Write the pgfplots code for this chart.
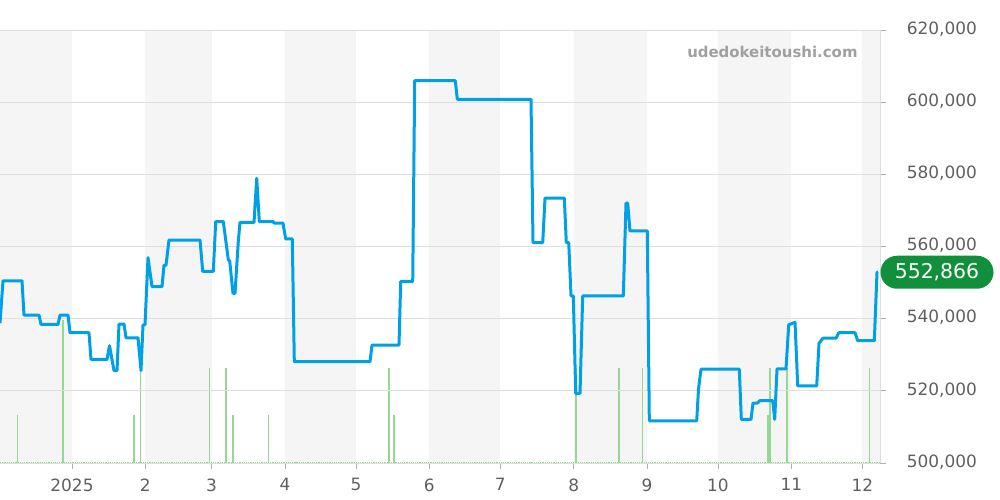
\documentclass[border=0pt]{standalone}
\usepackage{pgfplots}
\usepackage{pgfplotstable}
\pgfplotsset{compat=1.18}
\usepackage{fontspec}
\setmainfont{DejaVu Sans}
\definecolor{lineblue}{RGB}{0,160,232}
\definecolor{volgreen}{RGB}{150,215,150}
\definecolor{bandgray}{RGB}{245,245,245}
\definecolor{gridgray}{RGB}{222,222,222}
\definecolor{ticktext}{RGB}{95,95,95}
\definecolor{tickmark}{RGB}{175,175,175}
\definecolor{badge}{RGB}{16,144,58}
\definecolor{wmark}{RGB}{160,160,160}

% price series: day (0 = 1 Jan 2025), price in yen
\pgfplotstableread{
d p
-30.43 538800
-29.16 550500
-21.13 550500
-20.29 541000
-13.95 541000
-13.10 538400
-5.92 538400
-5.07 541000
-1.69 541000
-0.85 536100
7.18 536100
8.03 528700
14.79 528700
15.85 532500
17.75 525600
19.02 525600
19.86 538500
21.98 538500
22.82 534700
27.89 534700
29.16 525600
30.01 538300
30.85 538300
32.12 556900
33.81 548900
38.04 548900
38.88 554800
39.73 554800
40.99 561800
54.10 561800
55.24 553100
59.72 553100
60.73 566900
63.94 566900
66.06 556300
66.65 556000
68.04 547000
68.89 547000
70.28 561400
71.00 566700
76.92 566700
78.06 578900
79.16 566900
85.07 566900
85.37 566500
89.17 566500
90.31 562100
93.10 562100
93.95 528100
125.94 528100
126.79 532700
138.20 532700
138.91 550300
143.99 550300
144.83 605950
161.99 605950
162.84 600800
193.98 600800
194.83 561100
198.93 561100
199.90 573400
208.06 573400
208.90 561100
209.92 561100
210.89 546300
211.86 546300
212.87 519300
214.69 519300
215.83 546300
232.99 546300
234.13 572000
234.85 572000
235.82 564300
243.13 564300
243.98 511700
264.01 511700
264.77 520500
265.83 526000
282.01 526000
282.86 512100
286.96 512100
287.80 516600
289.62 516600
290.76 517300
296.13 517300
296.97 512100
297.95 526100
301.75 526100
302.89 538300
305.55 539000
306.70 521400
314.73 521400
315.70 533200
317.39 534600
322.88 534600
324.02 536100
330.91 536100
332.05 533900
339.07 533900
340.21 552866
340.63 552866
}\pricetable

% volume series: day, volume (units)
\pgfplotstableread{
d v
-22.95 1
-3.93 3
26.20 1
29.03 2
58.03 2
65.08 2
67.92 1
82.96 1
133.97 2
136.08 1
212.87 2
231.05 2
241.02 2
294.02 1
294.99 2
302.05 2
336.95 2
}\voltable

\begin{document}
\begin{tikzpicture}
\path[use as bounding box] (0,0) rectangle (1000bp,500bp);
% axis 1: month bands and watermark
\begin{axis}[
  at={(0bp,37bp)}, anchor=south west,
  scale only axis, width=880.3bp, height=433bp,
  xmin=-30.43, xmax=341.6, ymin=500000, ymax=620000,
  hide axis, clip=false,
]
\addplot[fill=bandgray, draw=none, forget plot] coordinates {(-30.43,500000) (0,500000) (0,620000) (-30.43,620000)} -- cycle;
\addplot[fill=bandgray, draw=none, forget plot] coordinates {(31,500000) (59,500000) (59,620000) (31,620000)} -- cycle;
\addplot[fill=bandgray, draw=none, forget plot] coordinates {(90,500000) (120,500000) (120,620000) (90,620000)} -- cycle;
\addplot[fill=bandgray, draw=none, forget plot] coordinates {(151,500000) (181,500000) (181,620000) (151,620000)} -- cycle;
\addplot[fill=bandgray, draw=none, forget plot] coordinates {(212,500000) (243,500000) (243,620000) (212,620000)} -- cycle;
\addplot[fill=bandgray, draw=none, forget plot] coordinates {(273,500000) (304,500000) (304,620000) (273,620000)} -- cycle;
\addplot[fill=bandgray, draw=none, forget plot] coordinates {(334,500000) (341.6,500000) (341.6,620000) (334,620000)} -- cycle;
\node[font=\bfseries\fontsize{15}{17}\selectfont, text=wmark] at (axis cs:296,613900) {udedokeitoushi.com};
\end{axis}
% axis 2: volume
\begin{axis}[
  at={(0bp,37bp)}, anchor=south west,
  scale only axis, width=880.3bp, height=433bp,
  xmin=-30.43, xmax=341.6, ymin=0, ymax=9.0909,
  hide axis,
]
\addplot[volgreen, densely dotted, line width=1.2bp] coordinates {(-30.43,0) (341.6,0)};
\addplot[ycomb, volgreen, line width=1.6bp, mark=none] table[x=d, y=v] {\voltable};
\end{axis}
% axis 3: grid, ticks, labels, price line
\begin{axis}[
  at={(0bp,37bp)}, anchor=south west,
  scale only axis, width=880.3bp, height=433bp,
  xmin=-30.43, xmax=341.6, ymin=500000, ymax=620000,
  axis x line*=bottom, axis y line*=right,
  axis line style={draw=gridgray, line width=0.8bp},
  ymajorgrids, major grid style={draw=gridgray, line width=0.8bp},
  ytick={500000,520000,540000,560000,580000,600000,620000},
  scaled y ticks=false,
  yticklabel style={/pgf/number format/fixed, /pgf/number format/1000 sep={,}, /pgf/number format/assume math mode=true},
  yticklabel style={font=\fontsize{17}{19}\selectfont, text=ticktext, xshift=17bp, yshift=1bp},
  xtick={0,31,59,90,120,151,181,212,243,273,304,334},
  xticklabels={2025,2,3,4,5,6,7,8,9,10,11,12},
  xticklabel style={font=\fontsize{17}{19}\selectfont, text=ticktext, yshift=-6bp},
  tick align=outside, major tick length=6bp,
  tick style={draw=tickmark, line width=0.8bp},
  clip=false,
]
\addplot[lineblue, line width=3bp, line join=round, mark=none] table[x=d, y=p] {\pricetable};
\node[anchor=west, fill=badge, text=white, rounded corners=16.5bp, minimum width=113bp, minimum height=33bp, inner sep=0pt, font=\fontsize{20.5}{22}\selectfont] at (axis cs:341.6,552866) {552,866};
\end{axis}
\end{tikzpicture}
\end{document}
